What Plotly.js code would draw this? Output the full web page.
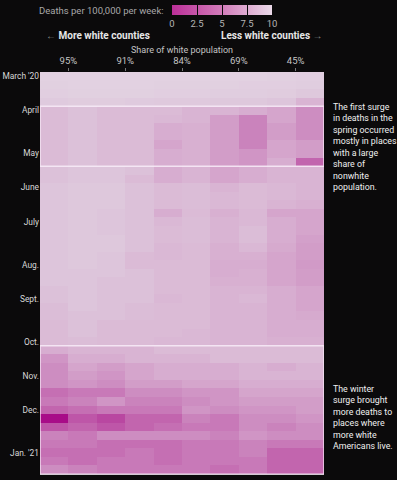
<!DOCTYPE html>
<html>
<head>
<meta charset="utf-8">
<script src="https://cdn.plot.ly/plotly-3.0.1.min.js"></script>
<style>
  html, body { margin: 0; padding: 0; background: #0b0a0b; }
  #chart { width: 397px; height: 480px; }
</style>
</head>
<body>
<div id="chart"></div>
<script>
// Columns: counties grouped by share of white population (most white -> least white)
const deciles = [1, 2, 3, 4, 5, 6, 7, 8, 9, 10];
const shareTickPos = [1.5, 3.5, 5.5, 7.5, 9.5];
const shareTickText = ['95%', '91%', '84%', '69%', '45%'];

// Rows: weeks (week ending)
const weeks = [
  'Mar 4, 2020','Mar 11, 2020','Mar 18, 2020','Mar 25, 2020',
  'Apr 1, 2020','Apr 8, 2020','Apr 15, 2020','Apr 22, 2020','Apr 29, 2020',
  'May 6, 2020','May 13, 2020','May 20, 2020','May 27, 2020',
  'Jun 3, 2020','Jun 10, 2020','Jun 17, 2020','Jun 24, 2020',
  'Jul 1, 2020','Jul 8, 2020','Jul 15, 2020','Jul 22, 2020','Jul 29, 2020',
  'Aug 5, 2020','Aug 12, 2020','Aug 19, 2020','Aug 26, 2020',
  'Sep 2, 2020','Sep 9, 2020','Sep 16, 2020','Sep 23, 2020','Sep 30, 2020',
  'Oct 7, 2020','Oct 14, 2020','Oct 21, 2020','Oct 28, 2020',
  'Nov 4, 2020','Nov 11, 2020','Nov 18, 2020','Nov 25, 2020',
  'Dec 2, 2020','Dec 9, 2020','Dec 16, 2020','Dec 23, 2020','Dec 30, 2020',
  'Jan 6, 2021','Jan 13, 2021','Jan 20, 2021'
];
const monthTickWeeks = ['Mar 4, 2020','Apr 1, 2020','May 6, 2020','Jun 3, 2020','Jul 1, 2020',
  'Aug 5, 2020','Sep 2, 2020','Oct 7, 2020','Nov 4, 2020','Dec 2, 2020','Jan 6, 2021'];
const monthTickText = ["March '20","April","May","June","July","Aug.","Sept.","Oct.","Nov.","Dec.","Jan. '21"];

// Deaths per 100,000 per week
const deaths = [
  [0.3,0.3,0.3,0.3,0.3,0.3,0.3,0.3,0.4,0.5],
  [0.4,0.3,0.3,0.3,0.4,0.4,0.4,0.5,0.5,0.6],
  [0.5,0.4,0.4,0.4,0.5,0.5,0.6,0.6,0.7,1.0],
  [0.8,0.7,0.7,0.8,0.9,0.9,1.0,1.0,1.2,2.5],
  [2.0,1.5,2.0,2.0,2.0,2.5,2.5,3.0,3.5,5.0],
  [2.0,1.5,2.0,2.0,2.2,2.5,4.0,5.5,3.5,5.0],
  [2.0,1.5,2.0,2.0,3.0,2.8,4.0,5.5,4.0,5.0],
  [2.0,1.5,2.0,2.0,3.0,2.8,4.0,5.5,4.0,5.0],
  [2.0,1.5,2.0,2.0,3.5,2.8,4.0,5.5,3.5,4.0],
  [2.0,1.5,2.0,2.0,3.0,2.8,4.0,4.5,3.5,4.0],
  [2.0,1.5,2.0,2.0,3.0,2.8,4.0,4.5,3.0,7.0],
  [1.5,1.2,1.2,1.5,3.0,2.5,3.5,3.0,2.5,2.5],
  [1.5,1.2,1.2,2.0,3.0,2.5,3.5,3.0,2.5,2.5],
  [1.2,1.0,1.0,1.5,2.0,1.8,2.5,2.0,2.2,2.5],
  [1.2,1.0,1.0,1.5,2.0,1.8,2.2,2.0,2.2,2.5],
  [1.2,1.0,1.0,1.5,2.0,1.8,2.2,2.0,2.5,2.8],
  [1.2,1.0,1.2,1.5,3.0,2.0,2.8,2.2,3.5,3.5],
  [1.2,1.0,1.2,1.5,2.2,1.8,2.5,2.2,3.0,3.5],
  [1.2,1.0,1.2,1.5,2.0,1.8,2.5,1.8,3.0,3.5],
  [1.2,1.0,1.0,1.5,2.0,1.8,2.5,1.8,3.0,3.8],
  [1.2,1.0,1.0,1.5,2.2,2.0,2.8,2.2,3.2,4.0],
  [1.2,1.0,1.2,2.0,2.2,2.0,2.8,2.8,3.5,4.0],
  [1.2,1.0,1.2,2.0,2.0,2.0,3.0,3.0,3.5,4.2],
  [1.2,1.2,1.2,1.5,2.0,2.0,3.0,2.8,3.5,4.0],
  [1.2,1.2,1.5,1.5,2.0,2.0,2.8,2.8,3.5,4.0],
  [1.5,1.2,1.5,1.5,2.0,2.0,2.5,2.5,3.0,3.5],
  [1.5,1.2,1.5,1.5,2.2,2.0,2.5,2.2,3.0,3.5],
  [1.8,1.2,1.5,1.8,2.0,2.0,2.5,2.5,3.0,3.5],
  [1.8,1.5,1.5,1.8,2.0,2.0,2.5,2.5,3.0,3.2],
  [2.0,1.5,2.0,2.0,2.0,2.0,2.5,2.5,3.0,3.0],
  [2.0,1.5,2.0,2.0,2.0,2.2,2.5,2.5,3.0,3.0],
  [2.0,1.8,2.0,2.0,2.2,2.2,2.5,2.5,2.8,2.8],
  [3.0,2.5,2.5,2.5,2.0,2.0,2.0,2.0,2.0,2.0],
  [4.5,3.0,3.0,2.5,2.5,2.5,2.0,2.0,2.0,2.0],
  [5.0,3.5,4.0,3.5,3.0,3.0,3.0,2.5,3.0,2.5],
  [5.0,4.0,4.5,3.5,3.0,3.0,3.0,2.5,2.5,2.5],
  [5.0,4.5,5.0,4.0,4.0,3.5,3.5,3.0,3.0,3.0],
  [6.5,6.0,6.0,5.0,5.0,4.5,4.5,3.5,3.5,3.5],
  [6.0,5.5,4.5,5.5,5.5,5.0,4.5,4.0,4.0,4.0],
  [7.0,6.5,6.0,6.0,6.0,4.5,5.0,4.5,4.5,4.0],
  [10.0,7.5,8.0,7.0,7.0,5.5,6.0,5.0,5.0,4.5],
  [7.5,7.0,7.5,7.0,6.5,6.0,6.0,5.0,5.5,5.0],
  [5.5,6.0,5.0,5.0,5.0,5.0,5.5,4.5,5.0,5.0],
  [6.0,6.0,6.5,6.5,6.5,6.0,6.0,5.5,6.0,6.0],
  [6.5,6.5,6.5,6.0,6.5,6.0,6.0,5.5,7.0,7.0],
  [6.0,6.5,6.0,6.0,6.5,6.0,6.0,6.0,7.0,7.0],
  [5.0,5.5,6.0,6.0,6.0,6.0,6.5,6.0,7.0,7.0]
];

// Legend scale values
const legendRange = [0, 10];
const legendTicks = [0, 2.5, 5, 7.5, 10];
const legendTickText = ['0', '2.5', '5', '7.5', '10'];

const heatScale = [
  [0, '#e3d5e3'], [0.12, '#ddc5db'], [0.28, '#d8b0d1'],
  [0.5, '#cd8dc1'], [0.7, '#c265ae'], [1, '#a80c88']
];
const legendScale = [[0, '#bb2f98'], [0.5, '#d27cba'], [1, '#ebdae9']];

const FONT = 'Roboto, "Liberation Sans", Arial, sans-serif';

const traces = [
  {
    type: 'heatmap',
    x: deciles,
    y: weeks,
    z: deaths,
    zmin: 0, zmax: 10,
    colorscale: heatScale,
    showscale: false,
    hoverinfo: 'skip'
  },
  {
    type: 'scatter',
    x: [null], y: [null],
    mode: 'markers',
    showlegend: false,
    hoverinfo: 'skip',
    marker: {
      color: legendRange, cmin: 0, cmax: 10,
      colorscale: legendScale, showscale: true,
      colorbar: {
        orientation: 'h',
        x: 0.641, xanchor: 'center',
        y: 1.166, yanchor: 'top',
        len: 100, lenmode: 'pixels',
        thickness: 10,
        xpad: 0, ypad: 0,
        outlinewidth: 0,
        tickmode: 'array',
        tickvals: legendTicks,
        ticktext: legendTickText,
        ticks: 'inside', ticklen: 10, tickcolor: '#0b0a0b', tickwidth: 1,
        tickfont: { family: FONT, size: 9.5, color: '#b5b5b5' }
      }
    }
  }
];

const layout = {
  width: 397, height: 480,
  margin: { l: 40, r: 73, t: 70, b: 5 },
  paper_bgcolor: '#0b0a0b',
  plot_bgcolor: '#0b0a0b',
  font: { family: FONT, color: '#cfcfcf', size: 9.5 },
  showlegend: false,
  xaxis: {
    side: 'top',
    range: [0.5, 10.5],
    tickmode: 'array',
    tickvals: shareTickPos,
    ticktext: shareTickText,
    ticks: 'outside', ticklen: 3, tickcolor: '#777',
    tickfont: { family: FONT, size: 9.5, color: '#c4c4c4' },
    showgrid: false, zeroline: false, showline: false,
    fixedrange: true
  },
  yaxis: {
    type: 'category',
    autorange: 'reversed',
    tickmode: 'array',
    tickvals: monthTickWeeks,
    ticktext: monthTickText,
    ticks: '',
    tickfont: { family: FONT, size: 8.4, color: '#d8d8d8' },
    showgrid: false, zeroline: false, showline: false,
    fixedrange: true
  },
  shapes: [
    { type: 'rect', xref: 'x', yref: 'y', x0: 0.5, x1: 10.5, y0: 3.5, y1: 10.5,
      line: { color: 'rgba(248,236,248,0.85)', width: 1.5 } },
    { type: 'rect', xref: 'x', yref: 'y', x0: 0.5, x1: 10.5, y0: 31.5, y1: 46.5,
      line: { color: 'rgba(248,236,248,0.85)', width: 1.5 } }
  ],
  annotations: [
    { xref: 'paper', yref: 'paper', x: 0.4437, y: 1.153, xanchor: 'right', yanchor: 'middle',
      text: 'Deaths per 100,000 per week:', showarrow: false,
      font: { family: FONT, size: 9.5, color: '#a8a8a8' } },
    { xref: 'paper', yref: 'paper', x: 0.015, y: 1.091, xanchor: 'left', yanchor: 'middle',
      text: '<span style="color:#8a8a8a">\u2190</span> <b>More white counties</b>', showarrow: false,
      font: { family: FONT, size: 10, color: '#e6e6e6' } },
    { xref: 'paper', yref: 'paper', x: 1.004, y: 1.091, xanchor: 'right', yanchor: 'middle',
      text: '<b>Less white counties</b> <span style="color:#8a8a8a">\u2192</span>', showarrow: false,
      font: { family: FONT, size: 10, color: '#e6e6e6' } },
    { xref: 'paper', yref: 'paper', x: 0.5, y: 1.0555, xanchor: 'center', yanchor: 'middle',
      text: 'Share of white population', showarrow: false,
      font: { family: FONT, size: 9, color: '#c4c4c4' } },
    { xref: 'paper', yref: 'paper', x: 1.026, y: 0.93, xanchor: 'left', yanchor: 'top', align: 'left',
      text: 'The first surge<br>in deaths in the<br>spring occurred<br>mostly in places<br>with a large<br>share of<br>nonwhite<br>population.',
      showarrow: false, font: { family: FONT, size: 8.8, color: '#f0f0f0' } },
    { xref: 'paper', yref: 'paper', x: 1.026, y: 0.23, xanchor: 'left', yanchor: 'top', align: 'left',
      text: 'The winter<br>surge brought<br>more deaths to<br>places where<br>more white<br>Americans live.',
      showarrow: false, font: { family: FONT, size: 8.8, color: '#f0f0f0' } }
  ]
};

Plotly.newPlot('chart', traces, layout, { displayModeBar: false, staticPlot: true });
</script>
</body>
</html>
